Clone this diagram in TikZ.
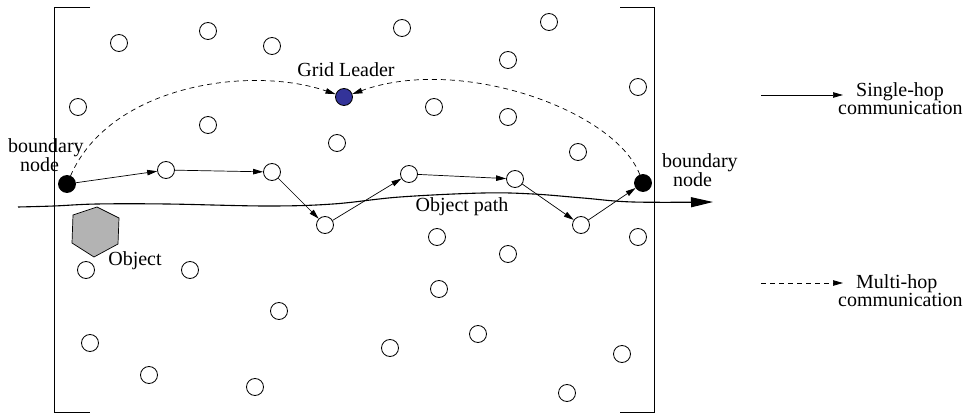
\documentclass[tikz,border=0pt]{standalone}
\usepackage{fontspec}
\setmainfont{Liberation Serif}
\usetikzlibrary{arrows.meta}
\definecolor{leaderblue}{RGB}{51,51,153}
\definecolor{objgray}{RGB}{179,179,179}
\begin{document}
\begin{tikzpicture}[x=1pt,y=-1pt,
  sensor/.style={circle,draw,line width=0.8pt,minimum size=17pt,inner sep=0pt},
  bnode/.style={sensor,fill=black},
  leader/.style={sensor,fill=leaderblue},
  hop/.style={line width=0.7pt,-{Triangle[length=10pt,width=5.5pt]}},
  multihop/.style={hop,dash pattern=on 5pt off 4pt},
  lbl/.style={font=\fontsize{20}{17}\selectfont,inner sep=0pt,anchor=base},
  lbltwo/.style={lbl,align=left,anchor=base west},
  frame/.style={line width=0.8pt}]
\useasboundingbox (0,0) rectangle (970,414);

% field borders
\draw[frame] (90,7) -- (54.5,7) -- (54.5,412) -- (90,412);
\draw[frame] (620,7) -- (654.5,7) -- (654.5,412) -- (620,412);

% idle sensors
\foreach \x/\y [count=\i] in {119/43, 208/31, 272/46, 402/28, 549/22, 508/60,
    638/87, 78/107, 208/125, 434/107, 508/117, 337/143, 578/152,
    437/237, 508/254, 638/237, 86/270, 190/270, 439/289, 279/311,
    478/334, 90/343, 390/348, 622/354, 149/375, 255/387, 567/393}
  \node[sensor] (s\i) at (\x,\y) {};

% sensors along the tracking chain
\node[sensor] (p1) at (166,170) {};
\node[sensor] (p2) at (272,172) {};
\node[sensor] (p3) at (325,225) {};
\node[sensor] (p4) at (409,174) {};
\node[sensor] (p5) at (515,179) {};
\node[sensor] (p6) at (581,225) {};

% boundary nodes and grid leader
\node[bnode] (bl) at (67,184) {};
\node[bnode] (br) at (643,183) {};
\node[leader] (gl) at (344,97) {};

% object
\draw[line width=0.7pt,fill=objgray] (97,207) -- (119,218) -- (118,244) -- (94,257) -- (72,243) -- (73,215) -- cycle;

% object path
\coordinate (pathstart) at (18,207);
\coordinate (pathend) at (713,202);
\draw[line width=1.1pt,-{Triangle[length=22pt,width=10pt]}]
  plot[smooth,tension=0.6] coordinates {(pathstart) (54,206) (97,204) (167,204)
    (267,206) (333,204) (400,197) (483,193) (533,194) (583,198) (633,202) (pathend)};

% single-hop chain
\draw[hop] (bl) -- (p1);
\draw[hop] (p1) -- (p2);
\draw[hop] (p2) -- (p3);
\draw[hop] (p3) -- (p4);
\draw[hop] (p4) -- (p5);
\draw[hop] (p5) -- (p6);
\draw[hop] (p6) -- (br);

% multi-hop reports to the grid leader
\draw[multihop] (bl) .. controls (110,85) and (250,65) .. (gl);
\draw[multihop] (br) .. controls (615,110) and (460,55) .. (gl);

% labels (two-line labels are placed by the baseline of their last line)
\node[lbl] (tgl) at (346,77) {Grid Leader};
\node[lbltwo] (tbl) at (8,172) {boundary\\\hspace*{12pt}node};
\node[lbltwo] (tbr) at (662,187) {boundary\\\hspace*{11pt}node};
\node[lbl] (tpath) at (462,212) {Object path};
\node[lbl] (tobj) at (135,266) {Object};

% legend
\coordinate (l1a) at (761,95);
\coordinate (l1b) at (843,95);
\draw[hop] (l1a) -- (l1b);
\node[lbltwo] (ts) at (838,115) {\hspace*{18pt}Single-hop\\communication};
\coordinate (l2a) at (761,283);
\coordinate (l2b) at (843,283);
\draw[multihop] (l2a) -- (l2b);
\node[lbltwo] (tm) at (838,307) {\hspace*{18pt}Multi-hop\\communication};
\end{tikzpicture}
\end{document}
